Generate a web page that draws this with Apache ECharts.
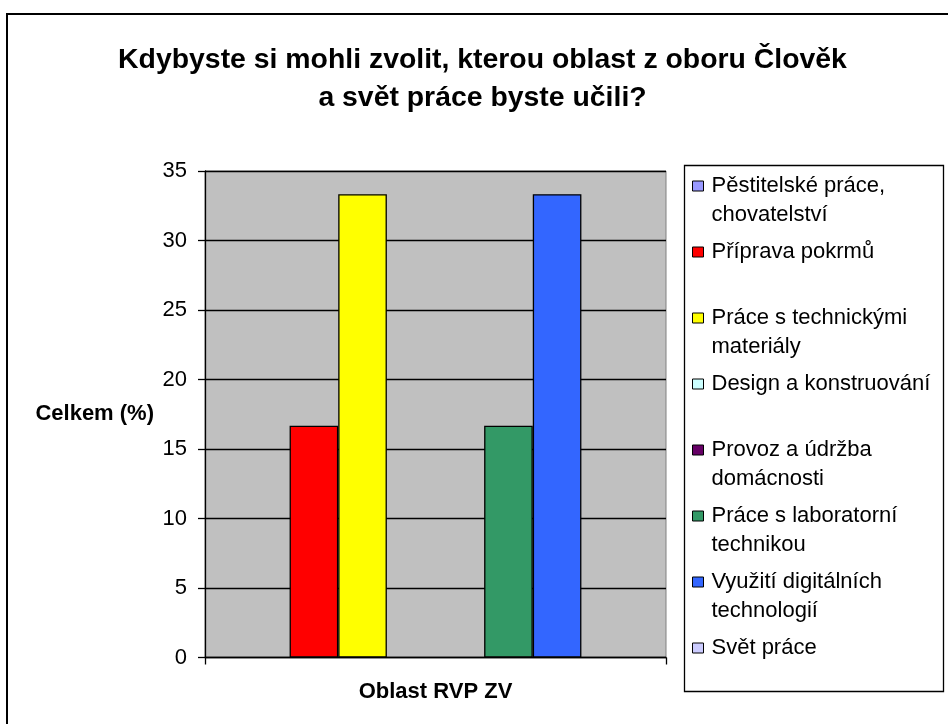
<!DOCTYPE html>
<html>
<head>
<meta charset="utf-8">
<script src="https://cdn.jsdelivr.net/npm/echarts@6/dist/echarts.min.js"></script>
<style>
  html, body { margin: 0; padding: 0; background: #fff; }
  #chart { width: 948px; height: 724px; }
</style>
</head>
<body>
<div id="chart"></div>
<script>
// data
const categories = ['Oblast RVP ZV']
const seriesNames = [
  'Pěstitelské práce, chovatelství',
  'Příprava pokrmů',
  'Práce s technickými materiály',
  'Design a konstruování',
  'Provoz a údržba domácnosti',
  'Práce s laboratorní technikou',
  'Využití digitálních technologií',
  'Svět práce',
]
const legendLabels = [
  'Pěstitelské práce,\nchovatelství',
  'Příprava pokrmů',
  'Práce s technickými\nmateriály',
  'Design a konstruování',
  'Provoz a údržba\ndomácnosti',
  'Práce s laboratorní\ntechnikou',
  'Využití digitálních\ntechnologií',
  'Svět práce',
]
const values = [0, 16.67, 33.33, 0, 0, 16.67, 33.33, 0]
const colors = ['#9999FF', '#FF0000', '#FFFF00', '#CCFFFF', '#660066', '#339966', '#3366FF', '#CCCCFF']
const yTicks = { min: 0, max: 35, interval: 5 }

const font = '"Liberation Sans", Arial, sans-serif'

// legend entries (excel style, evenly spaced, icon level with the first line)
const legendCenters = [186, 252, 318, 384, 450, 516, 582, 648]
const legends = seriesNames.map((name, i) => {
  const twoLines = legendLabels[i].includes('\n')
  return {
    orient: 'vertical',
    left: 692,
    top: legendCenters[i] - (twoLines ? 43.5 : 14.5),
    padding: 0,
    itemWidth: 11,
    itemHeight: 10,
    icon: 'rect',
    data: [name],
    selectedMode: false,
    // a blank first line keeps the icon beside the first line of wrapped labels
    formatter: (n) => {
      const lbl = legendLabels[seriesNames.indexOf(n)]
      return lbl.includes('\n') ? ' \n' + lbl : lbl
    },
    itemStyle: { borderColor: '#000', borderWidth: 1 },
    textStyle: {
      fontFamily: font,
      fontSize: 22,
      color: '#000',
      lineHeight: 29,
      padding: [0, 0, 0, 3],
    },
  }
})

const chart = echarts.init(document.getElementById('chart'))
chart.setOption({
  backgroundColor: '#fff',
  animation: false,
  title: {
    text: 'Kdybyste si mohli zvolit, kterou oblast z oboru Člověk\na svět práce byste učili?',
    left: 482.5,
    textAlign: 'center',
    top: 41,
    padding: 0,
    textStyle: {
      fontFamily: font,
      fontSize: 28.4,
      fontWeight: 'bold',
      color: '#000',
      lineHeight: 38,
    },
  },
  legend: legends,
  grid: {
    left: 205,
    right: 282,
    top: 171,
    bottom: 66.5,
    show: true,
    backgroundColor: '#C0C0C0',
    borderColor: '#808080',
    borderWidth: 1,
  },
  xAxis: {
    type: 'category',
    data: categories,
    name: 'Oblast RVP ZV',
    nameLocation: 'middle',
    nameGap: 23,
    nameTextStyle: { fontFamily: font, fontSize: 22, fontWeight: 'bold', color: '#000' },
    axisLine: { lineStyle: { color: '#000', width: 1.3 } },
    axisTick: { show: true, length: 7, lineStyle: { color: '#000', width: 1.3 } },
    axisLabel: { show: false },
  },
  yAxis: {
    type: 'value',
    min: yTicks.min,
    max: yTicks.max,
    interval: yTicks.interval,
    name: 'Celkem (%)',
    nameLocation: 'middle',
    nameRotate: 0,
    nameGap: 51,
    nameTextStyle: { fontFamily: font, fontSize: 22, fontWeight: 'bold', color: '#000' },
    axisLine: { show: true, lineStyle: { color: '#000', width: 1.3 } },
    axisTick: { show: true, length: 7, lineStyle: { color: '#000', width: 1.3 } },
    axisLabel: { margin: 18, fontFamily: font, fontSize: 22, color: '#000' },
    splitLine: { show: true, lineStyle: { color: '#000', width: 1.3 } },
  },
  series: seriesNames.map((name, i) => ({
    name: name,
    type: 'bar',
    data: [values[i]],
    barGap: '0%',
    barCategoryGap: '15.6%',
    // empty bars get no outline so the baseline stays even
    itemStyle: { color: colors[i], borderColor: '#000', borderWidth: values[i] ? 1.3 : 0 },
  })),
  graphic: [
    // outer chart frame (runs off the canvas on right and bottom)
    {
      type: 'rect',
      shape: { x: 7, y: 14, width: 1000, height: 1000 },
      style: { fill: 'none', stroke: '#000', lineWidth: 2 },
      silent: true,
      z: -1,
    },
    // legend frame
    {
      type: 'rect',
      shape: { x: 684.5, y: 165.5, width: 259, height: 526 },
      style: { fill: 'none', stroke: '#000', lineWidth: 1.3 },
      silent: true,
    },
  ],
})
</script>
</body>
</html>
